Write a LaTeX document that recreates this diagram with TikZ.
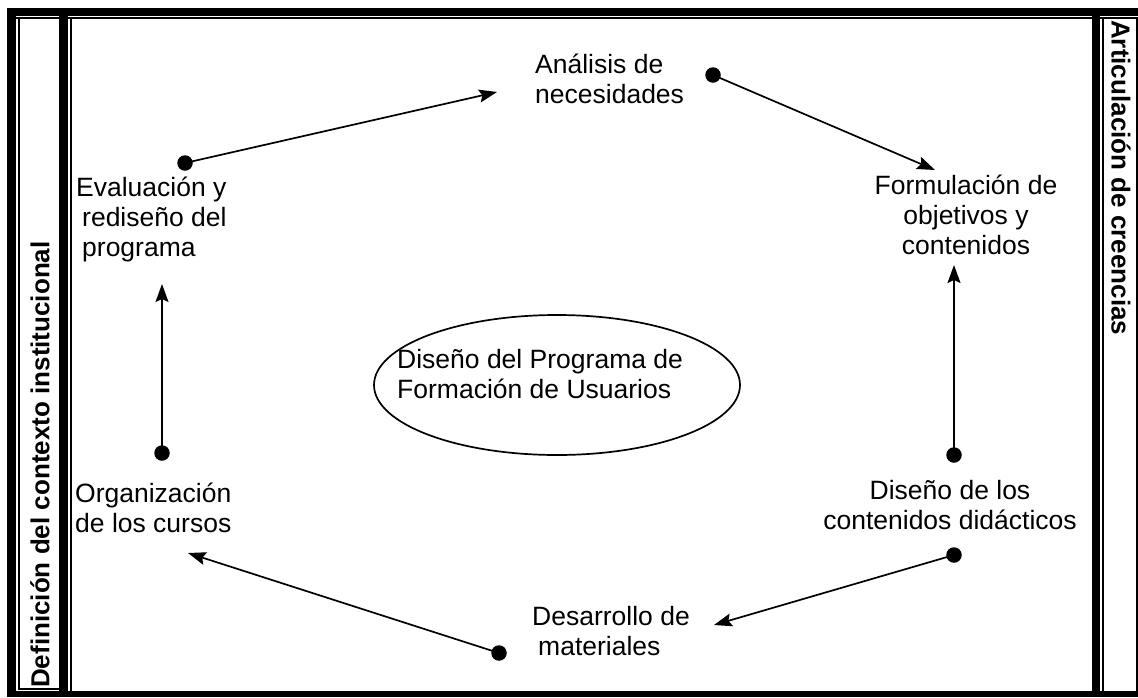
\documentclass[tikz,border=0pt]{standalone}
\usepackage{fontspec}
\setmainfont{Liberation Sans}
\usetikzlibrary{arrows.meta,shapes.geometric}

\begin{document}
\begin{tikzpicture}[x=1pt,y=-1pt,>={Stealth[length=18pt,width=13pt,inset=3pt]},
                    every node/.style={font=\fontsize{26.5}{30}\selectfont,inner sep=0pt},
                    etapa/.style={align=left,anchor=north west,execute at begin node=\vphantom{Á}},
                    etapac/.style={align=center,anchor=north,execute at begin node=\vphantom{Á}},
                    punto/.style={circle,fill=black,minimum size=15.5pt},
                    flecha/.style={->,line width=1.7pt},
                    lado/.style={font=\fontsize{26}{30}\selectfont\bfseries},
                    fino/.style={line width=2pt}]
  \useasboundingbox (0,0) rectangle (1138,697);

  % marco de la tabla
  \fill (7,8) rectangle (1138,16);
  \fill (7,8) rectangle (16,697);
  \fill (59,16) rectangle (68,697);
  \fill (1092,16) rectangle (1100,697);
  \fill (7,691) rectangle (1138,697);
  \draw[fino] (16,18) -- (1138,18);
  \draw[fino] (19,18) -- (19,689) -- (59,689);
  \draw[fino] (71,18) -- (71,691);
  \draw[fino] (1103,18) -- (1103,691);
  \draw[fino] (1137,18) -- (1137,691);

  % textos laterales
  \node[lado,rotate=90,anchor=west] (contexto) at (40,688) {Definición del contexto institucional};
  \node[lado,rotate=-90,anchor=west] (creencias) at (1121,20) {Articulación de creencias};

  % etapas del ciclo
  \node[etapa]  (analisis)     at (535,54)  {Análisis de\\necesidades};
  \node[etapac] (formulacion)  at (966,175) {Formulación de\\objetivos y\\contenidos};
  \node[etapac] (disenocont)   at (950,480) {Diseño de los\\contenidos didácticos};
  \node[etapa]  (desarrollo)   at (532,606) {Desarrollo de\\\hspace*{6pt}materiales};
  \node[etapa]  (organizacion) at (75,483)  {Organización\\de los cursos};
  \node[etapa]  (evaluacion)   at (76,177)  {Evaluación y\\\hspace*{6pt}rediseño del\\\hspace*{6pt}programa};

  % centro
  \node[draw,ellipse,line width=1.7pt,minimum width=366pt,minimum height=140pt] (programa) at (557,385) {};
  \node[etapa] (programatxt) at (397,349) {Diseño del Programa de\\Formación de Usuarios};

  % puntos y flechas
  \node[punto] (pAnalisis)     at (713,75)  {};
  \node[punto] (pFormulacion)  at (954,455) {};
  \node[punto] (pDiseno)       at (954,555) {};
  \node[punto] (pDesarrollo)   at (499,653) {};
  \node[punto] (pOrganizacion) at (162,453) {};
  \node[punto] (pEvaluacion)   at (185,163) {};

  \coordinate (fAnalisis)     at (497,92);
  \coordinate (fFormulacion)  at (935,170);
  \coordinate (fContenidos)   at (954,265);
  \coordinate (fDesarrollo)   at (714,625);
  \coordinate (fOrganizacion) at (188,553);
  \coordinate (fEvaluacion)   at (162,284);

  \draw[flecha] (pEvaluacion.center) -- (fAnalisis);
  \draw[flecha] (pAnalisis.center) -- (fFormulacion);
  \draw[flecha] (pFormulacion.center) -- (fContenidos);
  \draw[flecha] (pDiseno.center) -- (fDesarrollo);
  \draw[flecha] (pDesarrollo.center) -- (fOrganizacion);
  \draw[flecha] (pOrganizacion.center) -- (fEvaluacion);
\end{tikzpicture}
\end{document}
